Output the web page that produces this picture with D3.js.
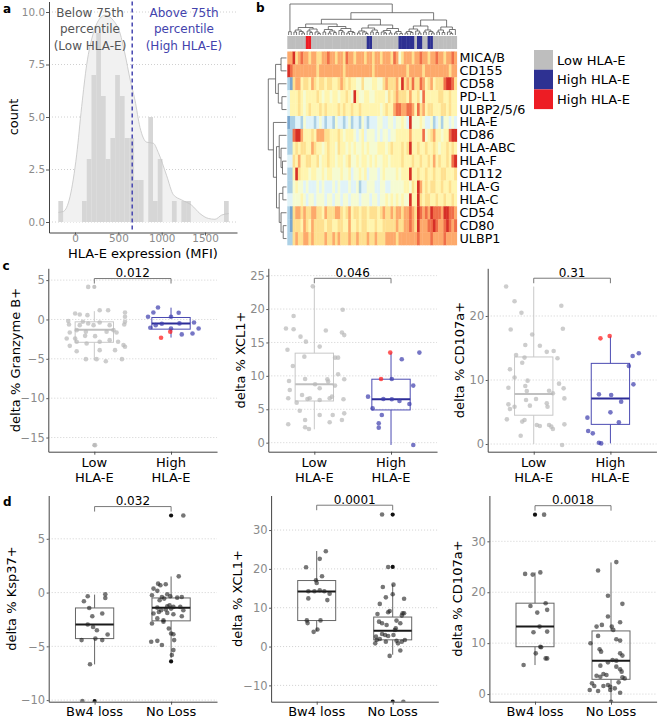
<!DOCTYPE html>
<html><head><meta charset="utf-8">
<script src="https://cdn.jsdelivr.net/npm/d3@7/dist/d3.min.js"></script>
<style>
body{margin:0;background:#fff;}
svg text{font-family:"DejaVu Sans",sans-serif;}
</style></head>
<body><svg id="fig" width="660" height="719"></svg>
<script>
// ======================= DATA =======================
// ---- panel a : histogram + density of HLA-E MFI
const histStartMFI = -192;
const histBinWidth = 54.6;
const histCounts = [1,0,0,0,0,1,3,7,9,6,3,4,7,6,4,4,2,2,0,5,1,3,0,0,1,0,1,1,0,0,0,0,0,0,0,1];
const densityMFI = [-192,-135,-58,19,77,135,212,288,346,442,519,577,635,692,750,827,904,962,1058,1135,1231,1346,1442,1538,1615,1692,1773];
const densityCount = [0.46,0.5,1.2,3.2,5.5,7.5,9.0,9.7,9.85,9.6,9.0,8.0,6.8,5.8,4.5,3.8,3.75,3.3,2.2,1.3,1.05,0.8,0.4,0.17,0.13,0.33,0.4];
const cutoffMFI = 660;
const aXTicks = [0,500,1000,1500];
const aYTicks = [0,2.5,5,7.5,10];

// ---- panel b : heatmap (levels 0 = low/blue ... 9 = high/red)
const markers = ["MICA/B","CD155","CD58","PD-L1","ULBP2/5/6","HLA-E","CD86","HLA-ABC","HLA-F","CD112","HLA-G","HLA-C","CD54","CD80","ULBP1"];
const expr = [
"77967877 67766778 77677687 76777677 67767776 87467776 77877677 87767787",
"98777777 77767777 77777677 77777777 67777777 77777677 77767777 77777677",
"21677566 57656656 65567656 55446444 55446766 67596768 66875675 66689986",
"35556545 55565455 45545565 49544554 45555465 67666575 56485555 56655655",
"35556545 65556565 55565655 65565555 55545655 78877887 58675665 55665655",
"12233243 33234323 32433234 23324323 33443344 34454394 44543342 34244343",
"22899755 56577766 55565455 54345344 43434434 45555575 55584567 55455899",
"22565665 57655456 55465545 45445454 44555456 55565695 56556556 54556565",
"33657556 65564556 55455456 44545545 45445545 55565556 55655657 56556589",
"22596555 45544545 54445445 34454534 44345444 45455595 56556556 55665556",
"22454434 33343433 34343334 33423344 43344334 44445546 59756566 55655655",
"33444543 44344434 43443443 44434443 44344545 45454495 59656655 65565565",
"21677676 67766576 66776567 56656656 66567667 67767787 69878798 88799887",
"21666576 57666656 65566557 55656655 56556666 67667787 69777889 87789878",
"22676677 67666676 67676667 66766676 67666777 76777777 78777787 77787777"
];
const sampleGroup = "ggggggg"+"rr"+"ggggggggggggggggggggg"+"bb"+"gggggggggg"+"bbbbbb"+"g"+"bb"+"gg"+"bb"+"ggggggggg";
const groupKeys = ["g","b","r"];
const groupLabels = ["Low HLA-E","High HLA-E","High HLA-E"];
// dendrograms: [height, child, child...], leaf = 0
const rowTree = [1.0,[0.6,[0.3,0,0],[0.45,0,[0.25,0,0]]],[0.72,0,[0.55,[0.4,0,[0.3,0,[0.22,0,0]]],[0.4,[0.2,0,0],[0.3,0,[0.18,0,0]]]]]];
const cX1 = [5,[3,0,0],[3.5,0,[2,0,0]]];
const cX2 = [6,[4,0,[2.5,0,0]],[3,0,[1.5,0,0]]];
const cX3 = [5.5,[3,0,0],[4,[2,0,0],[2.5,0,0]]];
const cX4 = [6.5,[4.5,0,[3,0,0]],[3.5,[2,0,0],[2.5,0,0]]];
const cY1 = [4,[2,0,0],[3,0,[1.5,0,0]]];
const cY2 = [5,[3,0,0],[2.5,0,0]];
const cY3 = [4.5,[3,0,[2,0,0]],[2,0,0]];
const cY4 = [3.5,[2,0,0],[1.5,0,0]];
const cZ1 = [3.5,[2,0,0],[2.5,0,0]];
const cZ2 = [4,0,[2,0,0]];
const cZ3 = [5,[3,0,0],[3.5,0,[2,0,0]]];
const cC2 = [8,[5,[3,0,0],[2.5,0,0]],[5.5,[3,0,[1.5,0,0]],0]];
const colTree = [31,[3.3,0,0],[22.3,[15.7,[11,[7.5,cX1,cX2],[8.5,cX3,cX4]],[10,[7,cY1,cY2],[6.5,cY3,cY4]]],[15,[9,[6,cZ1,cZ2],cZ3],cC2]]];

// ---- panel c : [jitter, value] ; box = [whiskerLow, q1, median, q3, whiskerHigh]
const hlaCats = [["Low","HLA-E"],["High","HLA-E"]];
const gzmbLowPts = [[-0.08,4.14],[-0.25,0.76],[-0.19,0.63],[-0.09,0.55],[0.07,1.18],[0.18,1.18],[0.40,0.89],[0.40,0.34],[-0.34,-0.2],[-0.33,-0.64],[-0.15,-0.3],[-0.08,-0.51],[-0.01,-0.72],[0.07,-0.38],[0.20,-0.72],[0.39,-0.64],[-0.23,-1.36],[-0.11,-1.57],[0.25,-1.36],[-0.36,-2.42],[-0.12,-2.08],[0.01,-2.12],[-0.23,-2.84],[-0.10,-3.05],[0.07,-2.84],[0.20,-2.63],[0.31,-2.84],[-0.32,-3.35],[0.38,-3.26],[0.27,-3.9],[-0.23,-4.03],[-0.11,-5.04],[0.03,-5.04],[0.15,-5.3],[0.36,-5.04],[0.40,-0.3],[-0.32,-1.66],[0.16,-1.57],[0.29,-1.66],[-0.19,-0.72],[-0.25,-2.42],[0.40,-3.47],[0.07,-3.9],[0.01,-15.97]];
const gzmbHighPts = [[-0.30,0.34],[-0.17,1.52],[-0.23,0.89],[0.10,0.85],[0.0,0.34],[0.30,-0.38],[0.36,-1.14],[0.28,-1.78],[0.14,-1.9],[-0.12,-0.55],[-0.27,-1.06],[0.0,-1.14],[-0.20,-0.72],[0.11,-0.5]];
const gzmbRedPts = [[-0.01,-1.57],[-0.13,-2.33]];
const gzmbLowBox = [-5.2,-2.9,-1.3,-0.3,1.05];
const gzmbHighBox = [-2.3,-1.23,-0.5,0.25,1.5];
const gzmbLowOut = [4.14,-15.97];

const xcl1cLowPts = [[-0.02,23.4],[-0.27,18.96],[-0.37,17.1],[-0.27,16.97],[0.15,16.8],[0.36,16.5],[0.39,16.1],[0.37,19.9],[-0.18,15.87],[-0.11,15.12],[0.07,14.38],[-0.35,13.9],[0.27,12.73],[0.31,12.73],[-0.13,12.88],[-0.28,11.48],[-0.33,9.24],[-0.12,9.54],[0.17,9.49],[0.01,8.74],[0.07,8.14],[0.18,9.14],[-0.32,7.89],[0.27,8.54],[0.31,10.24],[0.39,9.49],[-0.16,7.14],[-0.34,6.64],[-0.23,5.99],[-0.09,6.54],[-0.06,6.64],[0.07,6.39],[0.20,6.64],[0.23,6.89],[0.38,6.49],[-0.19,4.79],[0.07,4.14],[0.24,4.14],[0.39,4.39],[-0.12,3.4],[0.20,3.05],[0.36,3.4],[-0.34,2.75],[-0.12,2.3],[-0.07,2.05]];
const xcl1cHighPts = [[0.14,12.48],[0.37,13.48],[0.01,9.54],[0.29,8.54],[-0.30,6.89],[-0.24,5.14],[-0.10,6.54],[0.01,6.49],[0.11,6.24],[0.24,5.79],[-0.12,4.14],[-0.16,2.9],[-0.16,2.25],[0.29,-0.34]];
const xcl1cRedPts = [[-0.01,13.48],[-0.13,9.54]];
const xcl1cLowBox = [2.0,6.24,8.74,13.4,23.5];
const xcl1cHighBox = [-0.34,4.9,6.5,9.5,13.5];

const cd107cLowPts = [[-0.36,24.6],[-0.25,22.3],[-0.16,20.5],[0.36,21.6],[-0.30,17.9],[-0.02,17.1],[0.38,18.0],[-0.23,13.9],[-0.12,13.5],[-0.15,12.7],[-0.31,11.67],[-0.11,15.47],[0.08,15.36],[0.17,14.4],[0.26,14.53],[0.31,13.39],[-0.25,10.4],[-0.08,9.9],[-0.33,8.8],[-0.11,9.06],[-0.09,8.28],[0.20,8.33],[0.25,7.92],[0.39,8.7],[0.33,9.43],[-0.10,6.88],[0.03,7.03],[-0.05,5.99],[0.17,6.35],[0.18,5.83],[0.40,7.13],[-0.33,6.2],[-0.31,5.47],[-0.25,5.83],[-0.35,3.85],[-0.15,3.5],[-0.12,3.75],[0.04,2.97],[0.08,2.81],[0.20,2.97],[0.23,2.71],[0.25,2.35],[0.40,3.07],[-0.17,1.3],[0.37,-0.16]];
const cd107cHighPts = [[0.37,14.17],[0.29,13.75],[0.24,12.19],[0.30,9.32],[-0.15,7.76],[0.01,7.66],[0.14,6.62],[0.0,4.95],[0.11,3.39],[-0.30,4.12],[-0.29,2.03],[-0.23,1.67],[-0.15,0.2],[-0.12,0.1]];
const cd107cRedPts = [[-0.13,16.51],[-0.01,16.87]];
const cd107cLowBox = [0,4.5,7.8,13.6,24.6];
const cd107cHighBox = [0.1,3.07,7.1,12.6,16.8];

// ---- panel d
const bw4Cats = [["Bw4 loss"],["No Loss"]];
const kspBw4Pts = [[-0.09,-0.34],[0.14,-0.16],[0.14,-0.5],[-0.14,-0.81],[-0.07,-1.43],[0.10,-1.95],[-0.03,-2.2],[-0.09,-2.97],[0.03,-3.5],[-0.02,-3.2],[0.17,-3.9],[-0.17,-4.42],[0.01,-4.28],[0.10,-4.42],[-0.06,-6.66],[-0.16,-10.1]];
const kspNoPts = [[0.16,7.17],[0.10,1.51],[-0.17,0.83],[-0.14,0.68],[-0.07,0.77],[-0.23,0.37],[-0.18,0.16],[-0.25,-0.25],[-0.05,-0.16],[-0.01,-0.34],[-0.12,-0.41],[0.08,-0.47],[0.14,-0.41],[-0.15,-0.72],[-0.09,-0.56],[-0.02,-1.18],[-0.05,-1.27],[0.03,-1.33],[0.12,-1.33],[-0.18,-1.4],[-0.13,-1.64],[-0.07,-1.58],[0.0,-1.49],[0.16,-1.64],[-0.23,-1.95],[-0.16,-1.8],[-0.05,-1.89],[0.03,-2.02],[0.14,-2.2],[-0.18,-2.4],[-0.10,-2.57],[-0.25,-2.88],[-0.10,-2.72],[0.0,-3.8],[0.03,-3.87],[-0.03,-3.34],[-0.26,-4.58],[-0.18,-4.49],[-0.12,-4.88],[0.04,-4.42],[0.03,-5.35],[0.01,-5.81]];
const kspBw4Box = [-6.68,-4.28,-2.97,-1.43,-0.19];
const kspNoBox = [-6.1,-2.63,-1.4,-0.5,1.5];
const kspBw4Out = [-10.1];
const kspNoOut = [7.17,-6.4];

const xcl1dBw4Pts = [[0.12,24.56],[0.04,22.58],[-0.14,20.43],[0.07,18.1],[-0.01,17.07],[0.0,16.38],[-0.11,14.23],[-0.03,14.23],[0.04,14.49],[0.10,14.23],[0.17,13.63],[-0.11,12.4],[0.14,11.97],[-0.13,6.73],[-0.12,6.04],[0.05,6.73],[-0.04,3.79],[0.01,4.39]];
const xcl1dNoPts = [[-0.14,34.0],[-0.06,20.5],[-0.13,15.34],[0.01,15.94],[-0.09,12.67],[0.15,12.33],[0.0,13.46],[-0.17,10.98],[-0.06,8.82],[-0.04,9.16],[-0.20,8.4],[0.13,8.57],[0.12,7.97],[0.15,8.57],[-0.18,6.42],[0.05,6.68],[0.10,5.99],[-0.14,5.99],[-0.08,5.56],[0.04,4.7],[0.03,4.27],[-0.22,2.55],[-0.14,3.23],[-0.10,2.98],[-0.06,2.72],[0.01,2.98],[-0.17,1.94],[0.05,1.51],[0.12,1.25],[0.16,1.68],[0.07,0.82],[-0.09,1.25],[-0.04,-2.41],[0.10,-1.03],[-0.23,0.82],[-0.21,1.68],[0.14,-14.2]];
const xcl1dBw4Box = [3.9,6.7,14.2,17.0,24.6];
const xcl1dNoBox = [-2.1,1.73,4.1,7.6,16.0];
const xcl1dNoOut = [34.0,20.5,-14.2];

const cd107dBw4Pts = [[0.12,35.24],[-0.13,23.6],[-0.03,23.46],[0.07,23.9],[-0.06,17.31],[0.14,17.85],[0.03,16.0],[0.16,16.54],[0.06,13.25],[-0.02,12.14],[0.16,12.27],[0.07,9.3],[0.08,9.18],[0.01,8.0],[0.14,7.0],[0.16,7.0],[-0.15,5.7]];
const cd107dNoPts = [[0.07,25.92],[-0.17,24.28],[-0.04,19.3],[0.15,17.72],[-0.04,15.22],[0.12,14.1],[-0.19,13.25],[-0.12,13.58],[0.01,13.25],[0.03,12.6],[-0.17,11.42],[0.07,10.76],[0.12,10.5],[-0.27,9.97],[-0.15,8.79],[-0.13,8.33],[0.12,8.0],[0.15,7.55],[-0.04,6.23],[0.02,6.69],[0.07,6.56],[-0.14,5.58],[0.07,5.38],[0.12,4.86],[0.14,4.4],[-0.10,3.94],[-0.06,3.74],[-0.14,3.41],[-0.19,3.61],[0.15,3.28],[0.18,3.08],[-0.25,2.1],[-0.22,1.57],[-0.10,1.57],[-0.04,1.77],[-0.01,1.44],[0.10,2.3],[0.05,1.12],[-0.28,0.79],[-0.17,0.59],[-0.01,0.79],[0.12,0.26],[0.0,-1.5]];
const cd107dBw4Box = [5.7,9.3,13.25,17.85,23.9];
const cd107dNoBox = [-1.5,2.9,6.56,12.4,25.85];
const cd107dBw4Out = [35.24];

// ======================= DRAWING =======================
const svg = d3.select("#fig");
const FONT = '"DejaVu Sans", sans-serif';
const AXC = "#444", TICKC = "#8a8a8a", GRIDC = "#d0d0d0";

function styleAxis(g, fs){
  g.attr("font-family", FONT);
  g.select(".domain").attr("stroke", AXC).attr("stroke-width", 1);
  g.selectAll(".tick line").attr("stroke", AXC).attr("stroke-width", 0.9);
  g.selectAll(".tick text").attr("fill", TICKC).attr("font-size", fs);
}
function label(txt, x, y){
  svg.append("text").attr("x", x).attr("y", y).attr("font-size", 12).attr("font-weight", "bold").text(txt);
}

// ---------- panel a ----------
{
  const L = 49, R = 237, T = 1.5, B = 232.5;
  const xA = d3.scaleLinear().domain([-300, 1869]).range([L, R]);
  const yA = d3.scaleLinear().domain([-0.5, 10.5]).range([B, T]);
  const g = svg.append("g");
  aYTicks.forEach(t => g.append("line").attr("x1", L).attr("x2", R).attr("y1", yA(t)).attr("y2", yA(t))
    .attr("stroke", GRIDC).attr("stroke-dasharray", "1,2"));
  const dens = densityMFI.map((m, i) => [m, densityCount[i]]);
  g.append("path").datum(dens).attr("fill", "#f1f1f1")
    .attr("d", d3.area().x(d => xA(d[0])).y0(yA(0)).y1(d => yA(d[1])).curve(d3.curveMonotoneX));
  histCounts.forEach((c, i) => {
    if (!c) return;
    const m0 = histStartMFI + i * histBinWidth;
    g.append("rect").attr("x", xA(m0)).attr("width", xA(m0 + histBinWidth) - xA(m0))
      .attr("y", yA(c)).attr("height", yA(0) - yA(c)).attr("fill", "#d6d6d6");
  });
  g.append("path").datum(dens).attr("fill", "none").attr("stroke", "#c4c4c4").attr("stroke-width", 0.8)
    .attr("d", d3.line().x(d => xA(d[0])).y(d => yA(d[1])).curve(d3.curveMonotoneX));
  g.append("line").attr("x1", xA(cutoffMFI)).attr("x2", xA(cutoffMFI)).attr("y1", T).attr("y2", B)
    .attr("stroke", "#4646b0").attr("stroke-width", 1.5).attr("stroke-dasharray", "4,3");
  g.append("g").attr("transform", `translate(${L},0)`)
    .call(d3.axisLeft(yA).tickValues(aYTicks).tickFormat(d3.format(".1f")).tickSize(3).tickPadding(1).tickSizeOuter(0))
    .call(s => styleAxis(s, 10.4));
  g.append("g").attr("transform", `translate(0,${B})`)
    .call(d3.axisBottom(xA).tickValues(aXTicks).tickFormat(d3.format("d")).tickSize(3).tickPadding(-0.5).tickSizeOuter(0))
    .call(s => styleAxis(s, 10.4));
  g.append("text").attr("x", (L + R) / 2).attr("y", 257.8).attr("text-anchor", "middle").attr("font-size", 13).text("HLA-E expression (MFI)");
  g.append("text").attr("transform", "translate(17.5,117) rotate(-90)").attr("text-anchor", "middle").attr("font-size", 13).text("count");
  const below = ["Below 75th", "percentile", "(Low HLA-E)"], above = ["Above 75th", "percentile", "(High HLA-E)"];
  below.forEach((t, i) => g.append("text").attr("x", 90).attr("y", 16.5 + i * 16.5).attr("text-anchor", "middle").attr("font-size", 12).attr("fill", "#555").text(t));
  above.forEach((t, i) => g.append("text").attr("x", 184).attr("y", 16.5 + i * 16.5).attr("text-anchor", "middle").attr("font-size", 12).attr("fill", "#4343ad").text(t));
  label("a", 3, 13);
}

// ---------- panel b ----------
{
  const rows = expr.map(s => s.replace(/\s/g, "").split("").map(Number));
  const nCol = rows[0].length;
  const hx0 = 287.3, hx1 = 456.7, hy0 = 51.5, hy1 = 245;
  const xCol = d3.scaleBand().domain(d3.range(nCol)).range([hx0, hx1]);
  const yRow = d3.scaleBand().domain(d3.range(markers.length)).range([hy0, hy1]);
  const heat = d3.scaleLinear().domain([0, 1.5, 3, 4.5, 6, 7.5, 9])
    .range(["#4575B4", "#91BFDB", "#E0F3F8", "#FFFFBF", "#FEE090", "#FC8D59", "#D73027"]);
  const grpColor = d3.scaleOrdinal().domain(groupKeys).range(["#bebebe", "#2e3192", "#ed1c24"]);
  const g = svg.append("g");
  rows.forEach((r, i) => r.forEach((v, j) => {
    g.append("rect").attr("x", xCol(j)).attr("y", yRow(i)).attr("width", xCol.bandwidth() + 0.4)
      .attr("height", yRow.bandwidth() + 0.3).attr("fill", heat(v));
  }));
  sampleGroup.split("").forEach((k, j) => {
    g.append("rect").attr("x", xCol(j)).attr("y", 36).attr("width", xCol.bandwidth() + 0.4).attr("height", 13).attr("fill", grpColor(k));
  });
  markers.forEach((m, i) => g.append("text")
    .attr("transform", `translate(459.5,${yRow(i) + yRow.bandwidth() / 2 + 4}) scale(1.16,1.04)`)
    .attr("font-size", 11).text(m));
  // dendrograms
  function layout(node, ctr) {
    if (node === 0) return { pos: ctr.i++, h: 0 };
    const kids = node.slice(1).map(c => layout(c, ctr));
    return { h: node[0], kids, pos: (kids[0].pos + kids[kids.length - 1].pos) / 2 };
  }
  function drawTree(node, posS, hS, vertical) {
    if (!node.kids) return;
    const p0 = posS(node.kids[0].pos), p1 = posS(node.kids[node.kids.length - 1].pos), hh = hS(node.h);
    if (vertical) g.append("line").attr("x1", p0).attr("x2", p1).attr("y1", hh).attr("y2", hh);
    else g.append("line").attr("y1", p0).attr("y2", p1).attr("x1", hh).attr("x2", hh);
    node.kids.forEach(k => {
      const pk = posS(k.pos);
      if (vertical) g.append("line").attr("x1", pk).attr("x2", pk).attr("y1", hh).attr("y2", hS(k.h));
      else g.append("line").attr("y1", pk).attr("y2", pk).attr("x1", hh).attr("x2", hS(k.h));
      drawTree(k, posS, hS, vertical);
    });
  }
  const ct = layout(colTree, { i: 0 });
  const colPos = d3.scaleLinear().domain([0, nCol - 1]).range([hx0 + xCol.bandwidth() / 2, hx1 - xCol.bandwidth() / 2]);
  const colH = d3.scaleLinear().domain([0, 31]).range([35, 4]);
  drawTree(ct, colPos, colH, true);
  const rt = layout(rowTree, { i: 0 });
  const rowPos = d3.scaleLinear().domain([0, markers.length - 1]).range([hy0 + yRow.bandwidth() / 2, hy1 - yRow.bandwidth() / 2]);
  const rowH = d3.scaleLinear().domain([0, 1]).range([286.5, 268.3]);
  drawTree(rt, rowPos, rowH, false);
  g.selectAll("line").attr("stroke", "#555").attr("stroke-width", 0.8);
  // legend
  groupKeys.forEach((k, i) => {
    g.append("rect").attr("x", 534).attr("y", 50 + i * 19.7).attr("width", 19).attr("height", 19.7).attr("fill", grpColor(k));
    g.append("text").attr("x", 557).attr("y", 50 + i * 19.7 + 14.5).attr("font-size", 13).text(groupLabels[i]);
  });
  label("b", 256, 12);
}

// ---------- box panels ----------
let clipN = 0;
function boxPanel(p) {
  const x = d3.scaleLinear().domain([0.4, 2.6]).range([p.left, p.left + 2.2 * p.unit]);
  const y = d3.scaleLinear().domain(p.yDom).range([p.bottom, p.top]);
  const g = svg.append("g");
  const id = "clip" + (clipN++);
  g.append("clipPath").attr("id", id).append("rect").attr("x", x(0.4)).attr("y", p.top)
    .attr("width", x(2.6) - x(0.4)).attr("height", p.bottom - p.top);
  p.ticks.forEach(t => g.append("line").attr("x1", x(0.4)).attr("x2", x(2.6)).attr("y1", y(t)).attr("y2", y(t))
    .attr("stroke", GRIDC).attr("stroke-dasharray", "1,2"));
  const inner = g.append("g").attr("clip-path", `url(#${id})`);
  p.groups.forEach((gr, i) => {
    const cx = i + 1, hw = 0.25;
    const [wlo, q1, med, q3, whi] = gr.box;
    inner.append("line").attr("x1", x(cx)).attr("x2", x(cx)).attr("y1", y(q3)).attr("y2", y(whi)).attr("stroke", gr.boxColor);
    inner.append("line").attr("x1", x(cx)).attr("x2", x(cx)).attr("y1", y(q1)).attr("y2", y(wlo)).attr("stroke", gr.boxColor);
    inner.append("rect").attr("x", x(cx - hw)).attr("width", x(cx + hw) - x(cx - hw)).attr("y", y(q3))
      .attr("height", y(q1) - y(q3)).attr("fill", "none").attr("stroke", gr.boxColor);
    inner.append("line").attr("x1", x(cx - hw)).attr("x2", x(cx + hw)).attr("y1", y(med)).attr("y2", y(med))
      .attr("stroke", gr.medColor).attr("stroke-width", 2);
    (gr.out || []).forEach(v => inner.append("circle").attr("cx", x(cx)).attr("cy", y(v)).attr("r", 2.1).attr("fill", gr.outColor));
  });
  p.groups.forEach((gr, i) => {
    gr.sets.forEach(s => s.pts.forEach(d => inner.append("circle").attr("cx", x(i + 1 + d[0])).attr("cy", y(d[1]))
      .attr("r", 2.3).attr("fill", s.color).attr("fill-opacity", s.op)));
  });
  g.append("g").attr("transform", `translate(${x(0.4)},0)`)
    .call(d3.axisLeft(y).tickValues(p.ticks).tickSize(2).tickPadding(1.5).tickSizeOuter(0))
    .call(s => styleAxis(s, 11.5));
  g.append("g").attr("transform", `translate(0,${p.bottom})`)
    .call(d3.axisBottom(x).tickValues([1, 2]).tickFormat(() => "").tickSize(3).tickSizeOuter(0))
    .call(s => styleAxis(s, 11));
  p.cats.forEach((c, i) => c.forEach((t, j) => g.append("text").attr("x", x(i + 1)).attr("y", p.labelY + j * 15.2)
    .attr("text-anchor", "middle").attr("font-size", 13).text(t)));
  g.append("text").attr("transform", `translate(${p.titleX},${(p.top + p.bottom) / 2}) rotate(-90)`)
    .attr("text-anchor", "middle").attr("font-size", 13).text(p.title);
  const by = y(p.bracket);
  g.append("path").attr("d", `M${x(1)},${by + 5}V${by}H${x(2)}V${by + 5}`).attr("fill", "none").attr("stroke", "#6a6a6a").attr("stroke-width", 0.9);
  g.append("text").attr("x", (x(1) + x(2)) / 2).attr("y", by - 1.5).attr("text-anchor", "middle").attr("font-size", 12).text(p.pval);
}

const LOWC = { boxColor: "#c8c8c8", medColor: "#c0c0c0", outColor: "#c4c4c4" };
const HIGHC = { boxColor: "#4b4bb2", medColor: "#2c2c98", outColor: "#3c3cac" };
const DC = { boxColor: "#666", medColor: "#1a1a1a", outColor: "#111" };
const lowSet = pts => ({ pts, color: "#b8b8b8", op: 0.7 });
const highSet = pts => ({ pts, color: "#3c3cac", op: 0.7 });
const redSet = pts => ({ pts, color: "#ff2020", op: 0.75 });
const dSet = pts => ({ pts, color: "#222", op: 0.62 });

const cTop = 268.3, cBot = 451.7, dTop = 495.5, dBot = 701.7;
boxPanel({ left: 48.3, unit: 76.7, top: cTop, bottom: cBot, yDom: [-16.8, 6.5], ticks: [-15, -10, -5, 0, 5],
  title: "delta % Granzyme B+", titleX: 20.4, bracket: 5.2, pval: "0.012", cats: hlaCats, labelY: 467,
  groups: [{ box: gzmbLowBox, out: gzmbLowOut, ...LOWC, sets: [lowSet(gzmbLowPts)] },
           { box: gzmbHighBox, ...HIGHC, sets: [highSet(gzmbHighPts), redSet(gzmbRedPts)] }] });
boxPanel({ left: 268.3, unit: 76.7, top: cTop, bottom: cBot, yDom: [-1.35, 26.1], ticks: [0, 5, 10, 15, 20, 25],
  title: "delta % XCL1+", titleX: 245, bracket: 24.6, pval: "0.046", cats: hlaCats, labelY: 467,
  groups: [{ box: xcl1cLowBox, ...LOWC, sets: [lowSet(xcl1cLowPts)] },
           { box: xcl1cHighBox, ...HIGHC, sets: [highSet(xcl1cHighPts), redSet(xcl1cRedPts)] }] });
boxPanel({ left: 487.7, unit: 76.7, top: cTop, bottom: cBot, yDom: [-1.2, 27.45], ticks: [0, 10, 20],
  title: "delta % CD107a+", titleX: 464, bracket: 25.9, pval: "0.31", cats: hlaCats, labelY: 467,
  groups: [{ box: cd107cLowBox, ...LOWC, sets: [lowSet(cd107cLowPts)] },
           { box: cd107cHighBox, ...HIGHC, sets: [highSet(cd107cHighPts), redSet(cd107cRedPts)] }] });
boxPanel({ left: 48.7, unit: 76.5, top: dTop, bottom: dBot, yDom: [-10.15, 9.03], ticks: [-10, -5, 0, 5],
  title: "delta % Ksp37+", titleX: 16.2, bracket: 8.0, pval: "0.032", cats: bw4Cats, labelY: 716,
  groups: [{ box: kspBw4Box, out: kspBw4Out, ...DC, sets: [dSet(kspBw4Pts)] },
           { box: kspNoBox, out: kspNoOut, ...DC, sets: [dSet(kspNoPts)] }] });
boxPanel({ left: 271.1, unit: 76, top: dTop, bottom: dBot, yDom: [-14.2, 38.9], ticks: [-10, 0, 10, 20, 30],
  title: "delta % XCL1+", titleX: 241.7, bracket: 36.4, pval: "0.0001", cats: bw4Cats, labelY: 716,
  groups: [{ box: xcl1dBw4Box, ...DC, sets: [dSet(xcl1dBw4Pts)] },
           { box: xcl1dNoBox, out: xcl1dNoOut, ...DC, sets: [dSet(xcl1dNoPts)] }] });
boxPanel({ left: 489.4, unit: 76, top: dTop, bottom: dBot, yDom: [-1.5, 39], ticks: [0, 10, 20, 30],
  title: "delta % CD107a+", titleX: 462.4, bracket: 37.0, pval: "0.0018", cats: bw4Cats, labelY: 716,
  groups: [{ box: cd107dBw4Box, out: cd107dBw4Out, ...DC, sets: [dSet(cd107dBw4Pts)] },
           { box: cd107dNoBox, ...DC, sets: [dSet(cd107dNoPts)] }] });
label("c", 2.5, 270);
label("d", 3, 506);
</script></body></html>
